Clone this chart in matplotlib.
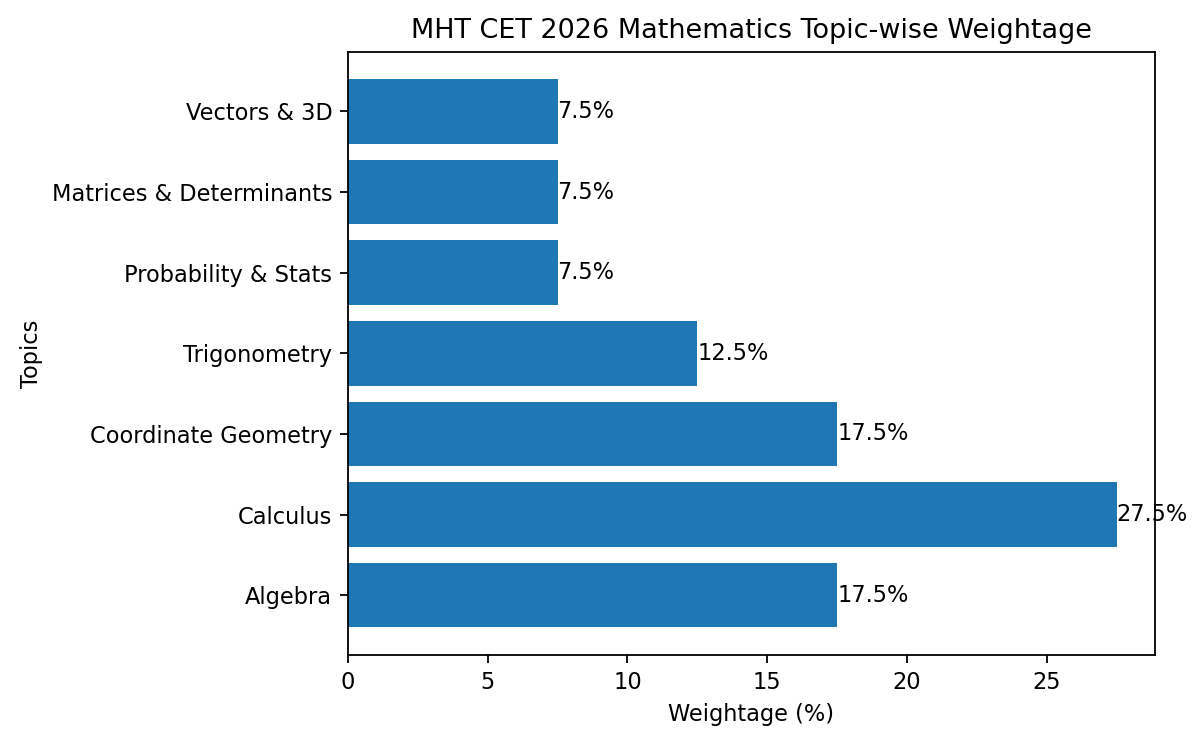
import matplotlib
matplotlib.use("Agg")
import matplotlib.pyplot as plt

topics = ["Algebra", "Calculus", "Coordinate Geometry", "Trigonometry",
          "Probability & Stats", "Matrices & Determinants", "Vectors & 3D"]
weightage = [17.5, 27.5, 17.5, 12.5, 7.5, 7.5, 7.5]

dpi = 162
fig, ax = plt.subplots(figsize=(1200 / dpi, 740 / dpi), dpi=dpi)
fig.subplots_adjust(left=0.29, right=0.9625, top=0.93, bottom=0.115)

bars = ax.barh(topics, weightage, color="#1f77b4")
for i, v in enumerate(weightage):
    ax.text(v, i, f"{v}%", va="center", ha="left")

ax.set_title("MHT CET 2026 Mathematics Topic-wise Weightage")
ax.set_xlabel("Weightage (%)")
ax.set_ylabel("Topics")

fig.savefig("out.png", dpi=dpi)
